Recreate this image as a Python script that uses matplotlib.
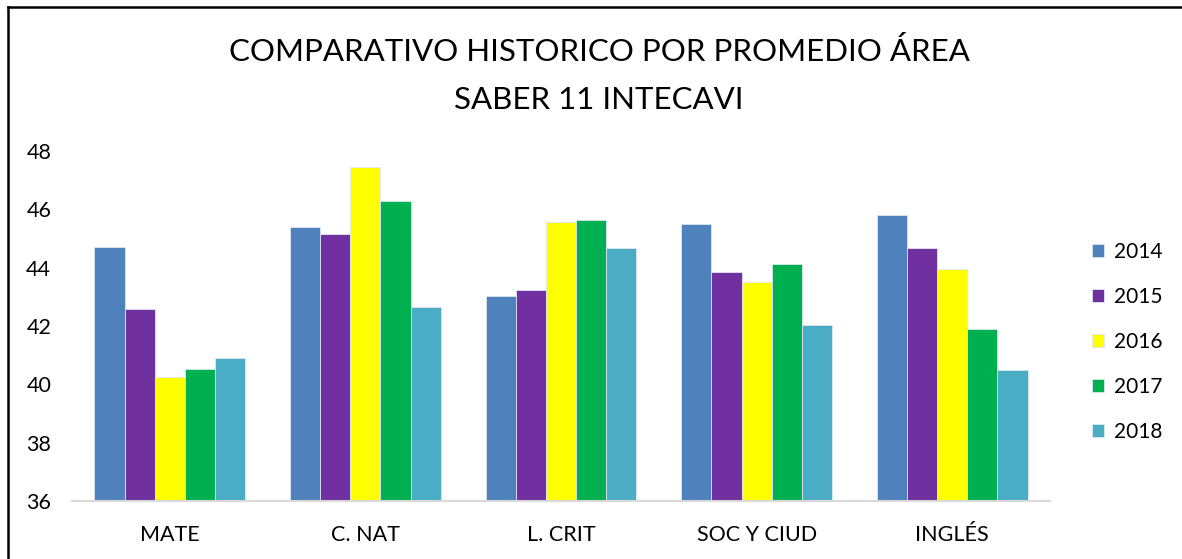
import numpy as np
import matplotlib.pyplot as plt
from matplotlib.lines import Line2D

plt.rcParams['font.family'] = ['Lato', 'DejaVu Sans']

# datos
areas = ['MATE', 'C. NAT', 'L. CRIT', 'SOC Y CIUD', 'INGLÉS']
years = ['2014', '2015', '2016', '2017', '2018']
v2014 = [44.72, 45.40, 43.04, 45.50, 45.79]
v2015 = [42.57, 45.14, 43.22, 43.84, 44.66]
v2016 = [40.24, 47.44, 45.58, 43.51, 43.94]
v2017 = [40.51, 46.27, 45.63, 44.12, 41.90]
v2018 = [40.89, 42.65, 44.66, 42.03, 40.49]
series = [v2014, v2015, v2016, v2017, v2018]
colors = ['#4F81BD', '#7030A0', '#FFFF00', '#00B050', '#4BACC6']

W, H = 1182, 559
fig = plt.figure(figsize=(W / 100, H / 100), dpi=100)
ax = fig.add_axes([72 / W, (H - 501) / H, (1050 - 72) / W, (501 - 151) / H])

x = np.arange(len(areas))
bw = 0.77 / len(series)
for i, (vals, c, yr) in enumerate(zip(series, colors, years)):
    ax.bar(x + (i - 2) * bw, np.array(vals) - 36, bottom=36, width=bw,
           color=c, edgecolor='#DCE6F0', linewidth=0.6, label=yr)

ax.set_xlim(-0.5, len(areas) - 0.5)
ax.set_ylim(36, 48)
ax.set_yticks(np.arange(36, 49, 2))
ax.set_xticks(x)
ax.set_xticklabels(areas)
ax.tick_params(axis='both', length=0, labelsize=15.5)
ax.tick_params(axis='x', pad=17)
ax.tick_params(axis='y', pad=15)
for s in ['top', 'right', 'left']:
    ax.spines[s].set_visible(False)
ax.spines['bottom'].set_color('#D9D9D9')
ax.spines['bottom'].set_linewidth(1.5)

fig.text(599 / W, 1 - 52 / H, 'COMPARATIVO HISTORICO POR PROMEDIO ÁREA',
         ha='center', va='center', fontsize=22.5)
fig.text(599 / W, 1 - 100 / H, 'SABER 11 INTECAVI',
         ha='center', va='center', fontsize=22.5)

ax.legend(loc='center left', bbox_to_anchor=(1073 / W, 1 - 342 / H),
          bbox_transform=fig.transFigure, frameon=False, fontsize=15,
          handlelength=0.6, handleheight=0.6, handletextpad=0.45,
          labelspacing=1.2)

# marco
fig.add_artist(Line2D([8 / W, 8 / W], [0, 1 - 7 / H], color='black', lw=1.8,
                      transform=fig.transFigure))
fig.add_artist(Line2D([8 / W, 1], [1 - 7 / H, 1 - 7 / H], color='black', lw=1.8,
                      transform=fig.transFigure))

fig.savefig('out.png', dpi=100)
